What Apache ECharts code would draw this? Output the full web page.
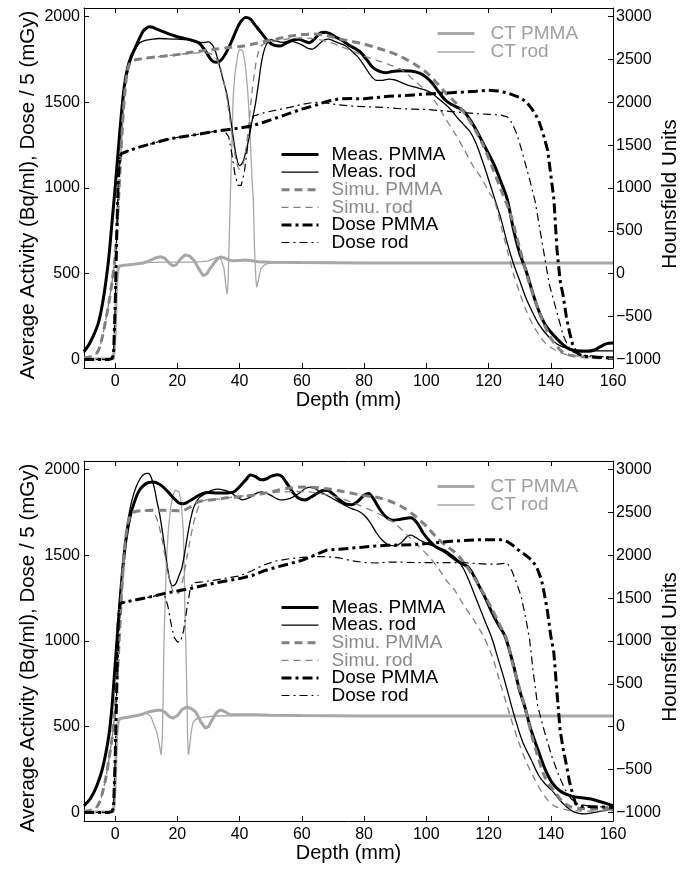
<!DOCTYPE html>
<html>
<head>
<meta charset="utf-8">
<script src="https://cdn.jsdelivr.net/npm/echarts@6/dist/echarts.min.js"></script>
<style>
  html, body { margin: 0; padding: 0; background: #fff; }
  #chart { width: 690px; height: 873px; }
</style>
</head>
<body>
<div id="chart"></div>
<script>
// tick labels
const xTicks = [0, 20, 40, 60, 80, 100, 120, 140, 160]
const yTicksLeft = [0, 500, 1000, 1500, 2000]
const yTicksRight = [-1000, -500, 0, 500, 1000, 1500, 2000, 2500, 3000]

// ---- top panel (rod at 40 mm) : [depth mm, value] ----
const measPmmaA = [[-10,45],[-8,100],[-6,180],[-5,240],[-4,330],[-3,450],[-2,600],[-1,800],[0,1000],[1,1220],[2,1430],[3,1600],[4,1700],[5,1760],[6,1800],[7,1840],[8,1880],[9,1915],[10,1932],[11,1940],[12,1938],[13,1930],[15,1915],[17,1900],[19,1888],[21,1878],[23,1870],[25,1860],[27,1845],[29,1800],[31,1745],[32.5,1733],[34,1745],[36,1800],[38,1880],[40,1960],[42,1995],[43.5,1985],[45,1950],[47,1905],[49,1860],[51,1833],[53,1828],[55,1845],[57,1862],[59,1868],[61,1855],[62.5,1848],[64,1868],[66,1905],[67.5,1908],[69,1900],[71,1880],[73,1860],[75,1835],[77,1815],[79,1790],[81,1745],[83,1700],[85,1680],[87,1672],[89,1680],[92,1684],[95,1682],[98,1668],[100,1645],[102,1610],[104,1560],[106,1515],[108,1488],[110,1470],[112,1448],[114,1400],[116,1340],[118,1270],[120,1200],[122,1128],[124,1035],[126,935],[128,760],[130,620],[132,520],[134,400],[136,290],[138,210],[140,160],[142,120],[144,85],[146,60],[148,50],[150,48],[152,48],[154,55],[156,75],[158,92],[160,96]]
const measRodA = [[-10,40],[-8,95],[-6,175],[-5,235],[-4,325],[-3,445],[-2,590],[-1,790],[0,990],[1,1200],[2,1410],[3,1570],[4,1670],[5,1740],[6,1790],[7,1825],[8,1848],[10,1862],[12,1868],[14,1872],[17,1870],[20,1868],[23,1866],[26,1855],[28,1848],[30,1852],[31,1840],[32,1810],[33,1750],[34,1680],[35,1610],[36,1540],[37,1420],[38,1290],[39,1180],[40,1130],[41,1150],[42,1210],[43,1290],[44,1390],[45,1480],[46,1600],[47,1730],[48,1810],[49,1850],[50,1866],[52,1855],[54,1850],[56,1858],[58,1850],[60,1835],[62,1815],[63.5,1810],[65,1830],[67,1862],[68.5,1868],[70,1860],[72,1845],[74,1830],[76,1800],[78,1765],[80,1715],[82,1660],[84,1628],[86,1628],[88,1635],[90,1630],[92,1615],[94,1600],[96,1590],[98,1580],[100,1570],[102,1550],[104,1520],[106,1490],[108,1455],[110,1410],[112,1370],[114,1330],[116,1260],[118,1160],[120,1050],[122,935],[124,820],[126,680],[128,560],[130,460],[132,360],[134,280],[136,210],[138,160],[140,120],[142,90],[144,72],[146,62],[148,56],[152,52],[156,50],[160,50]]
const simuPmmaA = [[-10,10],[-8,15],[-6,35],[-5,70],[-4,140],[-3,230],[-2,330],[-1,450],[0,600],[1,900],[2,1250],[3,1530],[4,1690],[5,1735],[6,1745],[8,1752],[10,1758],[13,1765],[16,1770],[20,1778],[24,1790],[28,1800],[32,1810],[36,1818],[40,1825],[44,1838],[48,1855],[52,1870],[56,1885],[60,1895],[64,1898],[68,1890],[72,1870],[76,1855],[80,1840],[84,1818],[88,1795],[92,1765],[96,1725],[100,1675],[103,1620],[106,1560],[109,1505],[112,1445],[115,1360],[118,1260],[121,1130],[124,990],[127,850],[130,650],[133,450],[136,290],[138,200],[140,125],[142,75],[144,40],[146,25],[150,15],[155,10],[160,8]]
const simuRodA = [[-10,10],[-8,15],[-6,35],[-5,70],[-4,140],[-3,230],[-2,330],[-1,450],[0,600],[1,900],[2,1250],[3,1530],[4,1690],[5,1735],[6,1745],[8,1752],[10,1758],[13,1765],[16,1770],[20,1778],[24,1785],[28,1790],[31,1780],[33,1740],[35,1620],[36.5,1450],[38,1260],[39,1150],[40,1110],[41,1130],[42,1220],[43,1380],[44,1560],[45,1700],[46,1790],[47,1830],[49,1850],[52,1860],[56,1870],[60,1875],[64,1870],[68,1855],[72,1830],[76,1800],[80,1770],[84,1745],[88,1720],[92,1690],[96,1630],[100,1565],[103,1500],[106,1410],[109,1325],[112,1230],[115,1130],[118,1050],[120,980],[122,920],[124,780],[126,640],[128,500],[130,390],[132,290],[134,210],[136,150],[138,100],[140,70],[143,40],[146,25],[150,18],[155,15],[160,15]]
const dosePmmaA = [[-10,0],[-2,0],[-1,5],[-0.5,30],[0,300],[0.5,700],[1,1050],[1.5,1180],[2,1200],[4,1215],[8,1240],[12,1260],[16,1280],[20,1295],[24,1305],[28,1318],[32,1330],[36,1340],[40,1350],[44,1363],[48,1385],[52,1410],[56,1435],[60,1460],[64,1480],[68,1505],[72,1520],[76,1522],[80,1520],[84,1528],[88,1535],[92,1538],[96,1543],[100,1548],[104,1552],[108,1556],[112,1560],[116,1565],[120,1571],[123,1566],[126,1555],[128,1542],[130,1528],[132,1505],[134,1460],[136,1400],[137.5,1320],[139,1220],[140,1080],[141,935],[142,640],[143,460],[144,370],[145,250],[146,160],[147,90],[148,45],[150,20],[155,12],[160,9]]
const doseRodA = [[-10,0],[-2,0],[-1,5],[-0.5,30],[0,300],[0.5,700],[1,1050],[1.5,1180],[2,1200],[4,1215],[8,1240],[12,1260],[16,1280],[20,1295],[24,1305],[28,1318],[32,1330],[35,1335],[36.5,1300],[37.5,1200],[38.5,1080],[39.5,1015],[40.5,1015],[41.5,1090],[42.5,1230],[43.5,1370],[44.5,1420],[48,1440],[52,1455],[56,1470],[60,1488],[64,1500],[68,1495],[72,1485],[76,1478],[80,1475],[84,1472],[88,1468],[92,1462],[96,1460],[100,1458],[104,1452],[108,1446],[112,1440],[116,1434],[120,1430],[124,1425],[126,1415],[127.5,1380],[129,1320],[130.5,1230],[132,1130],[133.5,1030],[135,920],[136.5,760],[138,600],[139.5,440],[141,340],[142.5,240],[144,140],[145.5,80],[147,45],[150,25],[155,18],[160,12]]
const ctPmmaA = [[-10,-995],[-2,-995],[-0.5,-990],[0,-700],[0.5,-100],[1,60],[1.5,90],[3,100],[6,110],[9,125],[11,150],[13,185],[14.5,198],[16,180],[17.5,120],[18.5,92],[19.5,100],[21,170],[22.5,220],[24,205],[25.5,150],[27,50],[28.3,-23],[29.5,0],[30.5,60],[31.5,110],[33,180],[34,195],[35,185],[36.5,160],[38,150],[40,155],[42,160],[44,150],[46,140],[50,135],[60,130],[80,125],[100,125],[120,125],[140,125],[160,125]]
const ctRodA = [[-10,-995],[-2,-995],[-0.5,-990],[0,-700],[0.5,-100],[1,60],[1.5,90],[3,100],[6,110],[10,130],[15,135],[20,135],[25,135],[28,140],[30,150],[32,180],[33,195],[34,170],[35,60],[35.6,-150],[36,-240],[36.3,-100],[36.6,300],[37,870],[37.5,1500],[37.9,2036],[38.5,2330],[39,2450],[39.5,2570],[40,2620],[40.5,2630],[41,2600],[41.5,2520],[42,2380],[42.5,2180],[42.8,2036],[43.3,1700],[44,1100],[44.4,870],[44.8,300],[45.2,-50],[45.5,-160],[46,-80],[46.8,50],[47.6,92],[49,120],[55,135],[60,130],[80,125],[100,125],[160,125]]

// ---- bottom panel (rod at 20 mm) ----
const measPmmaB = [[-10,40],[-8,80],[-6,150],[-4,260],[-2,450],[-1,620],[0,860],[1,1100],[2,1330],[3,1520],[4,1650],[5,1740],[6,1800],[7,1850],[8,1885],[9,1905],[10,1918],[11,1925],[12,1928],[13,1925],[15,1905],[17,1870],[19,1830],[20.5,1805],[22,1800],[24,1818],[26,1840],[28,1860],[30,1866],[33,1864],[36,1864],[38,1868],[40,1900],[42,1940],[43.5,1968],[45,1960],[47,1940],[48.5,1945],[50,1960],[52,1970],[53.5,1962],[55,1925],[57,1870],[59,1832],[61,1822],[63,1840],[65,1862],[67,1880],[68.5,1878],[70,1858],[72,1825],[74,1800],[76,1795],[78,1815],[80,1850],[81.5,1860],[83,1830],[85,1770],[87,1725],[89,1705],[91,1708],[93,1715],[95,1719],[97,1690],[99,1630],[101,1585],[103,1550],[106,1521],[109,1480],[111.5,1450],[113.3,1434],[115,1390],[117,1320],[119,1250],[121,1170],[123,1100],[125,1040],[126,991],[128,860],[130,710],[131.6,620],[133.5,490],[135.8,370],[138,260],[140.3,177],[143,125],[146.7,95],[150,85],[153,78],[156,62],[160,40]]
const measRodB = [[-10,35],[-8,75],[-6,145],[-4,255],[-2,445],[-1,615],[0,855],[1,1100],[2,1340],[3,1540],[4,1690],[5,1790],[6,1860],[7,1910],[8,1945],[9,1968],[10,1978],[10.7,1978],[11.5,1960],[12.5,1900],[13.5,1810],[14.5,1720],[15.5,1600],[16.5,1470],[17.5,1360],[18.5,1322],[19.5,1335],[20.5,1380],[21.5,1430],[22.5,1530],[23.5,1640],[24.5,1730],[25.5,1790],[27,1835],[29,1860],[31,1878],[33,1886],[35,1880],[37,1866],[39,1842],[41,1823],[43,1835],[45,1858],[47,1870],[49,1860],[51,1840],[53,1823],[55,1826],[57,1838],[59,1860],[61,1888],[62.5,1898],[64,1890],[66,1870],[68,1850],[70,1830],[72,1810],[74,1790],[76,1772],[78,1760],[80,1735],[82,1690],[84,1630],[86,1585],[88,1560],[90,1555],[92,1575],[94,1612],[95,1618],[96.5,1605],[98,1588],[100,1570],[102,1556],[104,1545],[106,1530],[108,1505],[110,1474],[112,1420],[114,1340],[116.5,1224],[119,1110],[121,1020],[123,900],[125,780],[127.4,620],[129,520],[131,410],[133.9,300],[136,220],[138,170],[140.3,130],[143,70],[146.7,10],[149,-5],[151,-8],[154,0],[157,10],[160,22]]
const simuPmmaB = [[-10,8],[-8,12],[-6,30],[-5,60],[-4,120],[-3,200],[-2,310],[-1,430],[0,600],[1,900],[2,1250],[3,1530],[4,1680],[5,1735],[6,1752],[8,1760],[12,1762],[16,1762],[20,1760],[22,1762],[24,1780],[26,1805],[28,1818],[32,1825],[36,1835],[40,1842],[44,1850],[48,1862],[52,1878],[56,1892],[60,1898],[64,1896],[68,1888],[72,1876],[76,1862],[80,1848],[84,1838],[88,1818],[92,1785],[96,1735],[100,1670],[103,1610],[106,1560],[109,1520],[112,1460],[115,1380],[118,1290],[121,1190],[124,1080],[126,1000],[128,850],[130,720],[131.6,620],[134,440],[135.8,330],[138,210],[141.3,119],[144,60],[146.7,31],[150,22],[155,20],[160,18]]
const simuRodB = [[-10,8],[-8,12],[-6,30],[-5,60],[-4,120],[-3,200],[-2,310],[-1,430],[0,600],[1,900],[2,1250],[3,1530],[4,1680],[5,1735],[6,1752],[8,1760],[10,1760],[12,1752],[13,1730],[14,1680],[15,1600],[16,1500],[17,1400],[18,1320],[19,1280],[20,1275],[21,1300],[22,1380],[23,1480],[24,1580],[25,1670],[26,1740],[27,1790],[28,1815],[30,1825],[34,1830],[38,1840],[42,1848],[46,1856],[50,1865],[54,1870],[58,1872],[62,1870],[66,1860],[70,1845],[74,1823],[78,1795],[82,1765],[86,1730],[90,1685],[94,1615],[98,1545],[101,1490],[104,1420],[107,1340],[109,1300],[112,1210],[115,1130],[118,1040],[121,920],[124,740],[127,560],[129.4,425],[132,300],[134.8,195],[138,95],[141.3,37],[145,15],[148.6,9],[154,8],[160,10]]
const dosePmmaB = [[-10,0],[-2,0],[-1,5],[-0.5,30],[0,300],[0.5,700],[1,1100],[1.5,1210],[2,1222],[4,1230],[8,1245],[12,1260],[16,1278],[20,1292],[24,1305],[28,1322],[32,1338],[36,1352],[40,1364],[44,1382],[48,1410],[52,1432],[56,1450],[60,1470],[64,1500],[68,1530],[72,1535],[76,1542],[80,1548],[84,1555],[88,1558],[92,1560],[96,1562],[100,1568],[104,1575],[108,1582],[112,1586],[116,1590],[120,1590],[124,1590],[126,1580],[128,1555],[130,1525],[132,1500],[134,1470],[135.5,1430],[137,1358],[138,1270],[139,1166],[140,1030],[141,930],[142,700],[143,480],[144,370],[145,280],[146,180],[147,110],[148,50],[150,35],[155,32],[160,30]]
const doseRodB = [[-10,0],[-2,0],[-1,5],[-0.5,30],[0,300],[0.5,700],[1,1100],[1.5,1210],[2,1222],[4,1230],[8,1245],[12,1260],[15,1272],[16,1260],[17,1200],[18,1100],[19,1020],[20,995],[21,995],[22,1060],[23,1180],[24,1290],[25,1340],[28,1345],[32,1355],[36,1368],[40,1380],[44,1410],[48,1445],[52,1468],[56,1480],[60,1488],[64,1492],[68,1492],[72,1485],[76,1468],[80,1458],[84,1455],[88,1460],[92,1460],[96,1458],[100,1457],[104,1457],[108,1457],[112,1457],[116,1452],[120,1448],[123,1448],[126,1455],[127.5,1410],[129,1340],[130.5,1260],[132,1130],[133.2,1008],[134.5,800],[135.8,620],[138,470],[140.3,329],[142.5,220],[144.5,136],[146.5,80],[148.6,50],[152,38],[156,33],[160,31]]
const ctPmmaB = [[-10,-995],[-2,-995],[-0.5,-990],[0,-700],[0.5,-100],[1,60],[1.5,95],[4,110],[7,130],[9,150],[11,175],[13,190],[14.5,195],[16,170],[17.5,115],[18.6,100],[20,130],[21.5,200],[23,230],[24.5,210],[26,170],[27.5,60],[29,-15],[30,0],[31,70],[32.5,160],[33.7,195],[35,180],[37,140],[40,140],[45,140],[50,135],[60,130],[80,125],[100,125],[120,125],[140,125],[160,125]]
const ctRodB = [[-10,-995],[-2,-995],[-0.5,-990],[0,-700],[0.5,-100],[1,60],[1.5,95],[4,110],[8,130],[10,160],[11.5,120],[12.5,20],[13.5,-75],[14.3,-230],[14.8,-330],[15.2,-100],[15.5,500],[15.7,1000],[16.2,1600],[16.6,2000],[17.1,2293],[17.8,2550],[18.6,2700],[19.3,2760],[19.9,2770],[20.6,2740],[21.3,2600],[21.9,2293],[22.2,1900],[22.5,1200],[22.7,1000],[23,500],[23.3,-100],[23.5,-327],[23.9,-250],[24.5,-50],[25,45],[26,90],[28,110],[32,125],[40,130],[60,130],[100,125],[160,125]]

const styles = {
  'Meas. PMMA': { color: '#000', width: 3, type: 'solid', text: '#000', smooth: 0.3 },
  'Meas. rod': { color: '#000', width: 1.3, type: 'solid', text: '#000', smooth: 0.3 },
  'Simu. PMMA': { color: '#808080', width: 3, type: [8, 5], text: '#8a8a8a', smooth: 0.3 },
  'Simu. rod': { color: '#808080', width: 1.3, type: [7, 5], text: '#8a8a8a', smooth: 0.3 },
  'Dose PMMA': { color: '#000', width: 3, type: [10, 4, 3, 4], text: '#000', smooth: false },
  'Dose rod': { color: '#000', width: 1.2, type: [8, 4, 2, 4], text: '#000', smooth: false },
  'CT PMMA': { color: '#a8a8a8', width: 3, type: 'solid', text: '#a0a0a0', smooth: false },
  'CT rod': { color: '#a8a8a8', width: 1.3, type: 'solid', text: '#a0a0a0', smooth: false }
}

const panels = [
  { top: 8, data: { 'CT PMMA': ctPmmaA, 'CT rod': ctRodA, 'Meas. PMMA': measPmmaA, 'Meas. rod': measRodA, 'Simu. PMMA': simuPmmaA, 'Simu. rod': simuRodA, 'Dose PMMA': dosePmmaA, 'Dose rod': doseRodA } },
  { top: 461, data: { 'CT PMMA': ctPmmaB, 'CT rod': ctRodB, 'Meas. PMMA': measPmmaB, 'Meas. rod': measRodB, 'Simu. PMMA': simuPmmaB, 'Simu. rod': simuRodB, 'Dose PMMA': dosePmmaB, 'Dose rod': doseRodB } }
]
const mainNames = ['Meas. PMMA', 'Meas. rod', 'Simu. PMMA', 'Simu. rod', 'Dose PMMA', 'Dose rod']
const ctNames = ['CT PMMA', 'CT rod']

const fontFamily = '"Liberation Sans", Arial, Helvetica, sans-serif'
const axisLine = { show: true, onZero: false, lineStyle: { color: '#000', width: 1 } }
const plain = v => String(v).replace('-', '\u2212')

const grid = [], xAxis = [], yAxis = [], series = [], legend = []

panels.forEach((p, i) => {
  grid.push({ left: 84, top: p.top, width: 529, height: 360, outerBoundsMode: 'none' })
  // bottom x axis with labels, top one only for the box ticks
  xAxis.push({
    gridIndex: i, type: 'value', min: -10, max: 160, position: 'bottom',
    axisLine, splitLine: { show: false },
    axisTick: { inside: true, length: 5, customValues: xTicks, lineStyle: { color: '#000' } },
    axisLabel: { customValues: xTicks, fontSize: 16, color: '#000', margin: 6, formatter: plain },
    name: 'Depth (mm)', nameLocation: 'middle', nameGap: 22, nameMoveOverlap: false,
    nameTextStyle: { fontSize: 20, color: '#000' }
  })
  xAxis.push({
    gridIndex: i, type: 'value', min: -10, max: 160, position: 'top',
    axisLine, splitLine: { show: false },
    axisTick: { inside: true, length: 5, customValues: xTicks, lineStyle: { color: '#000' } },
    axisLabel: { show: false }
  })
  yAxis.push({
    gridIndex: i, type: 'value', min: -50, max: 2050, position: 'left',
    axisLine, splitLine: { show: false },
    axisTick: { inside: true, length: 5, customValues: yTicksLeft, lineStyle: { color: '#000' } },
    axisLabel: { customValues: yTicksLeft, fontSize: 16, color: '#000', margin: 4, formatter: plain },
    name: 'Average Activity (Bq/ml), Dose / 5 (mGy)', nameLocation: 'middle', nameGap: 45, nameMoveOverlap: false,
    nameTextStyle: { fontSize: 20.5, color: '#000', padding: [0, 14, 0, 0] }
  })
  yAxis.push({
    gridIndex: i, type: 'value', min: -1100, max: 3100, position: 'right',
    axisLine, splitLine: { show: false },
    axisTick: { inside: true, length: 5, customValues: yTicksRight, lineStyle: { color: '#000' } },
    axisLabel: { customValues: yTicksRight, fontSize: 16, color: '#000', margin: 3, formatter: plain },
    name: 'Hounsfield Units', nameLocation: 'middle', nameGap: 47, nameMoveOverlap: false,
    nameTextStyle: { fontSize: 20.5, color: '#000', padding: [0, 12, 0, 0] }
  })

  Object.keys(p.data).forEach(name => {
    const s = styles[name]
    const isCt = name.startsWith('CT')
    series.push({
      name, type: 'line', data: p.data[name],
      xAxisIndex: i * 2, yAxisIndex: i * 2 + (isCt ? 1 : 0),
      symbol: 'none', smooth: s.smooth, silent: true,
      lineStyle: { color: s.color, width: s.width, type: s.type },
      itemStyle: { color: s.color }
    })
  })

  const item = name => ({
    name,
    textStyle: { color: styles[name].text },
    itemStyle: { opacity: 0 },
    lineStyle: { color: styles[name].color, width: styles[name].width, type: styles[name].type }
  })
  legend.push({
    orient: 'vertical', left: 280, top: p.top + 137, padding: 0, itemGap: -1.4,
    itemWidth: 37, itemHeight: 12, selectedMode: false,
    textStyle: { fontSize: 19, lineHeight: 17.5, padding: [0, 0, 0, 8], fontFamily },
    data: mainNames.map(item)
  })
  legend.push({
    orient: 'vertical', left: 436, top: p.top + 16, padding: 0, itemGap: -0.5,
    itemWidth: 37, itemHeight: 12, selectedMode: false,
    textStyle: { fontSize: 19, lineHeight: 18, padding: [0, 0, 0, 11], fontFamily },
    data: ctNames.map(item)
  })
})

const chart = echarts.init(document.getElementById('chart'))
chart.setOption({
  animation: false,
  backgroundColor: '#fff',
  textStyle: { fontFamily },
  grid, xAxis, yAxis, series, legend
})
</script>
</body>
</html>
